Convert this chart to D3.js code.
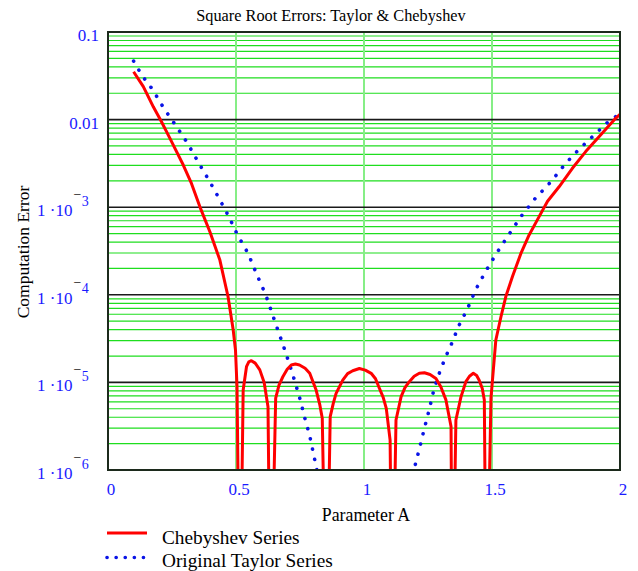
<!DOCTYPE html>
<html>
<head>
<meta charset="utf-8">
<script src="https://cdn.jsdelivr.net/npm/d3@7"></script>
<style>
  html, body { margin: 0; padding: 0; background: #ffffff; }
  svg { display: block; font-family: "Liberation Serif", "Times New Roman", serif; }
</style>
</head>
<body>
<svg id="chart" width="638" height="571"></svg>
<script>
// ---- data ----
const chebA = [0.100,0.138,0.177,0.209,0.242,0.294,0.326,0.359,0.398,0.437,0.469,0.489,0.498,0.504,0.515,
  0.528,0.541,0.550,0.560,0.575,0.593,0.610,0.625,0.635,
  0.655,0.668,0.683,0.700,0.716,0.732,0.748,0.770,0.788,0.813,0.827,0.837,0.853,
  0.868,0.880,0.891,0.917,0.936,0.956,0.982,1.005,1.028,1.045,1.060,1.075,1.087,1.102,1.110,
  1.125,1.145,1.160,1.177,1.196,1.216,1.236,1.258,1.281,1.300,1.320,1.340,1.345,
  1.359,1.379,1.398,1.412,1.427,1.440,1.450,1.462,1.470,1.478,
  1.496,1.515,1.535,1.554,1.580,1.613,1.645,1.684,1.717,1.762,1.814,1.866,1.918,1.983,2.000];
const chebErr = [3.52e-2,2.38e-2,1.40e-2,9.46e-3,6.11e-3,3.03e-3,1.87e-3,1.01e-3,5.25e-4,2.49e-4,9.5e-5,3.98e-5,2.34e-5,8.9e-6,1e-8,
  8.18e-6,1.51e-5,1.72e-5,1.77e-5,1.66e-5,1.39e-5,1.0e-5,5.28e-6,1e-8,
  6.61e-6,9.33e-6,1.16e-5,1.41e-5,1.58e-5,1.62e-5,1.58e-5,1.45e-5,1.27e-5,8.18e-6,5.62e-6,3.89e-6,1e-8,
  4.07e-6,5.75e-6,7.50e-6,1.06e-5,1.26e-5,1.36e-5,1.44e-5,1.38e-5,1.27e-5,1.10e-5,8.57e-6,6.76e-6,5.06e-6,2.19e-6,1e-8,
  3.72e-6,6.87e-6,8.71e-6,1.02e-5,1.175e-5,1.27e-5,1.29e-5,1.23e-5,1.11e-5,8.91e-6,6.31e-6,3.13e-6,1e-8,
  3.72e-6,6.87e-6,1.02e-5,1.175e-5,1.27e-5,1.20e-5,1.06e-5,8.51e-6,6.31e-6,1e-8,
  6.61e-6,3.05e-5,5.62e-5,9.55e-5,1.62e-4,2.97e-4,4.82e-4,7.8e-4,1.17e-3,1.71e-3,2.78e-3,4.31e-3,6.38e-3,1.035e-2,1.15e-2];

const taylorA = [0.100,0.122,0.144,0.173,0.216,0.264,0.311,0.352,0.394,0.434,0.472,0.506,0.547,0.580,0.616,0.658,0.684,0.707,0.730,0.751,0.769,0.788,0.811,0.850,1.000,1.150,1.201,1.219,1.237,1.255,1.272,1.294,1.317,1.340,1.370,1.405,1.437,1.476,1.518,1.565,1.613,1.669,1.730,1.788,1.840,1.895,1.954,2.000];
const taylorErr = [4.66e-2,3.61e-2,2.88e-2,2.23e-2,1.38e-2,8.61e-3,5.36e-3,3.28e-3,2.04e-3,1.26e-3,7.80e-4,4.82e-4,2.98e-4,1.74e-4,1.0e-4,4.41e-5,2.67e-5,1.68e-5,1.02e-5,6.31e-6,3.89e-6,2.45e-6,1.17e-6,3e-7,1e-10,3e-7,1.17e-6,1.88e-6,3.07e-6,4.93e-6,8.04e-6,1.27e-5,1.9e-5,2.67e-5,4.41e-5,7.01e-5,1.156e-4,1.87e-4,2.98e-4,4.82e-4,7.80e-4,1.26e-3,1.95e-3,3.17e-3,4.58e-3,6.50e-3,9.46e-3,1.17e-2];

const xTicks = [0, 0.5, 1, 1.5, 2];
const xTickLabels = ["0", "0.5", "1", "1.5", "2"];
const xGrid = [0.5, 1, 1.5];
const yTicks = [0.1, 0.01, 1e-3, 1e-4, 1e-5, 1e-6];
const yTickMantissa = ["0.1", "0.01", "1 \u00B710", "1 \u00B710", "1 \u00B710", "1 \u00B710"];
const yTickExponent = ["", "", "3", "4", "5", "6"];
const seriesNames = ["Chebyshev Series", "Original Taylor Series"];

const title = "Square Root Errors: Taylor & Chebyshev";
const xTitle = "Parameter A";
const yTitle = "Computation Error";

// ---- layout ----
const L = 108, R = 620, T = 32, B = 470;
const svg = d3.select("#chart");

const x = d3.scaleLinear().domain([0, 2]).range([L, R]);
const y = d3.scaleLog().domain([1e-6, 0.1]).range([B, T]);

svg.append("defs").append("clipPath").attr("id", "plotclip")
  .append("rect").attr("x", L).attr("y", T).attr("width", R - L).attr("height", B - T);

// minor horizontal grid (2..9 x decade)
const minor = [];
for (let e = -6; e <= -2; e++) for (let k = 2; k <= 9; k++) minor.push(k * Math.pow(10, e));
svg.append("g").selectAll("line").data(minor).join("line")
  .attr("x1", L).attr("x2", R)
  .attr("y1", d => y(d)).attr("y2", d => y(d))
  .attr("stroke", "#1ede1e").attr("stroke-width", 1.2);

// vertical grid
svg.append("g").selectAll("line").data(xGrid).join("line")
  .attr("x1", d => x(d)).attr("x2", d => x(d))
  .attr("y1", T).attr("y2", B)
  .attr("stroke", "#86ee86").attr("stroke-width", 2);

// major decade lines
svg.append("g").selectAll("line").data(yTicks).join("line")
  .attr("x1", L).attr("x2", R)
  .attr("y1", d => y(d)).attr("y2", d => y(d))
  .attr("stroke", "#1a1a1a").attr("stroke-width", 1.6);

// series
const chebData = chebA.map((a, i) => [a, chebErr[i]]);
const taylorData = taylorA.map((a, i) => [a, taylorErr[i]]);
const line = d3.line().x(d => x(d[0])).y(d => y(d[1]));

const plot = svg.append("g").attr("clip-path", "url(#plotclip)");
plot.append("path").datum(taylorData).attr("d", line)
  .attr("fill", "none").attr("stroke", "#0a14e6").attr("stroke-width", 3.6)
  .attr("stroke-linecap", "round").attr("stroke-dasharray", "0.1,10.4");
plot.append("path").datum(chebData).attr("d", line)
  .attr("fill", "none").attr("stroke", "#ff0000").attr("stroke-width", 3)
  .attr("stroke-linejoin", "round");

// frame
svg.append("rect").attr("x", L).attr("y", T).attr("width", R - L).attr("height", B - T)
  .attr("fill", "none").attr("stroke", "#1c2a1c").attr("stroke-width", 2);

// x tick labels
svg.append("g").selectAll("text").data(xTicks).join("text")
  .attr("x", d => x(d) + 3).attr("y", 495)
  .attr("text-anchor", "middle").attr("font-size", 17).attr("fill", "#1a1aff")
  .text((d, i) => xTickLabels[i]);

// y tick labels
const yl = svg.append("g").selectAll("text").data(yTicks).join("text")
  .attr("font-size", 17).attr("fill", "#1a1aff")
  .attr("y", d => y(d) + 9)
  .attr("x", (d, i) => yTickExponent[i] ? 37 : 99)
  .attr("text-anchor", (d, i) => yTickExponent[i] ? "start" : "end");
yl.each(function(d, i) {
  const t = d3.select(this);
  t.append("tspan").text(yTickMantissa[i]);
  if (yTickExponent[i]) {
    t.append("tspan").attr("dx", 1).attr("dy", -17).attr("font-size", 14).attr("fill", "#111").text("\u2212");
    t.append("tspan").attr("dx", 0.5).attr("dy", 6.5).attr("font-size", 14).text(yTickExponent[i]);
  }
});

// titles
svg.append("text").attr("x", 331).attr("y", 21).attr("text-anchor", "middle")
  .attr("font-size", 16.3).attr("fill", "#000").text(title);
svg.append("text").attr("x", 366).attr("y", 521).attr("text-anchor", "middle")
  .attr("font-size", 17.8).attr("fill", "#000").text(xTitle);
svg.append("text").attr("transform", "translate(28.5,252) rotate(-90)")
  .attr("text-anchor", "middle").attr("font-size", 17.5).attr("fill", "#000").text(yTitle);

// legend
const leg = svg.append("g");
leg.append("line").attr("x1", 107).attr("x2", 147).attr("y1", 533).attr("y2", 533)
  .attr("stroke", "#ff0000").attr("stroke-width", 3);
leg.append("text").attr("x", 162).attr("y", 544).attr("font-size", 19.3).attr("fill", "#000").text(seriesNames[0]);
leg.append("line").attr("x1", 107).attr("x2", 145).attr("y1", 557.5).attr("y2", 557.5)
  .attr("stroke", "#0a14e6").attr("stroke-width", 3.6)
  .attr("stroke-linecap", "round").attr("stroke-dasharray", "0.1,9");
leg.append("text").attr("x", 162).attr("y", 567).attr("font-size", 19.3).attr("fill", "#000").text(seriesNames[1]);
</script>
</body>
</html>
